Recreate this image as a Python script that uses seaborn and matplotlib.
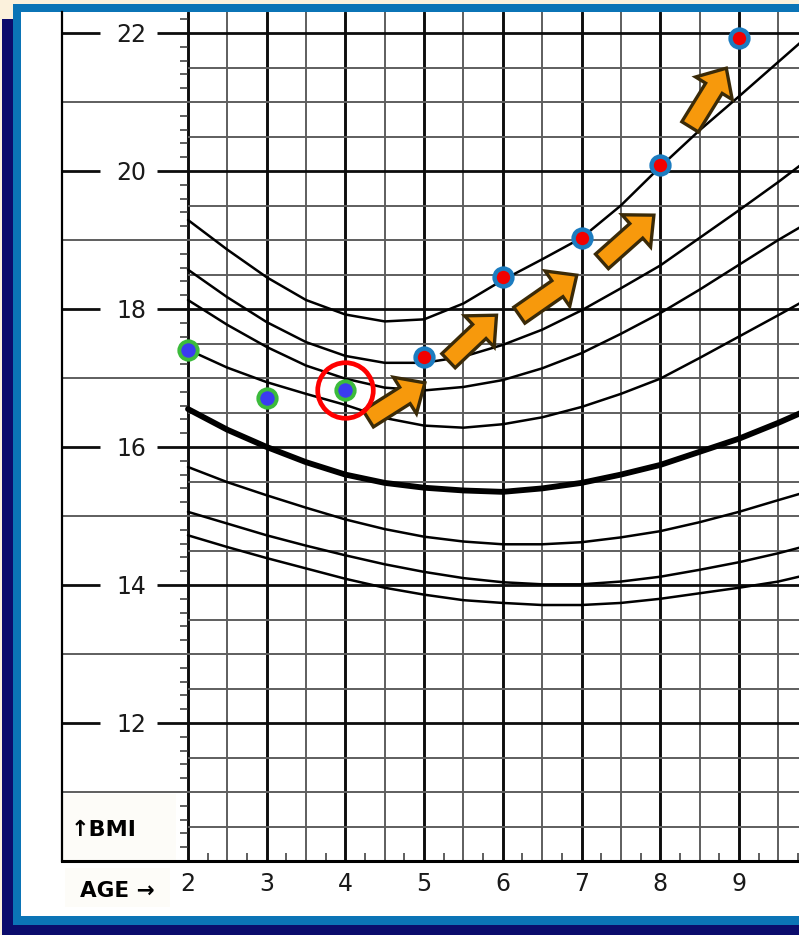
import numpy as np
import matplotlib
matplotlib.use("Agg")
import matplotlib.pyplot as plt
from matplotlib.patches import Rectangle, FancyArrowPatch
import seaborn as sns

# percentile curves (BMI for age, boys)
ages = [2, 2.5, 3, 3.5, 4, 4.5, 5, 5.5, 6, 6.5, 7, 7.5, 8, 8.5, 9, 9.5, 9.8]
p95 = [19.29, 18.86, 18.46, 18.13, 17.92, 17.82, 17.85, 18.08, 18.42, 18.72, 19.03, 19.50, 20.06, 20.59, 21.08, 21.58, 21.88]
p90 = [18.57, 18.17, 17.81, 17.52, 17.32, 17.22, 17.22, 17.31, 17.48, 17.70, 17.98, 18.30, 18.63, 19.03, 19.43, 19.84, 20.10]
p85 = [18.13, 17.77, 17.45, 17.18, 16.99, 16.86, 16.82, 16.87, 16.97, 17.14, 17.36, 17.64, 17.94, 18.28, 18.64, 19.00, 19.20]
p75 = [17.41, 17.15, 16.94, 16.77, 16.61, 16.42, 16.31, 16.28, 16.33, 16.43, 16.58, 16.77, 16.99, 17.29, 17.60, 17.91, 18.10]
p50 = [16.55, 16.25, 16.00, 15.78, 15.60, 15.48, 15.41, 15.37, 15.35, 15.40, 15.48, 15.60, 15.74, 15.93, 16.12, 16.35, 16.50]
p25 = [15.71, 15.49, 15.30, 15.12, 14.95, 14.81, 14.70, 14.63, 14.59, 14.59, 14.62, 14.69, 14.78, 14.91, 15.06, 15.23, 15.33]
p10 = [15.06, 14.89, 14.72, 14.57, 14.43, 14.30, 14.19, 14.10, 14.04, 14.01, 14.01, 14.05, 14.12, 14.22, 14.33, 14.46, 14.55]
p5 = [14.72, 14.55, 14.39, 14.24, 14.09, 13.96, 13.86, 13.78, 13.74, 13.71, 13.71, 13.74, 13.80, 13.88, 13.96, 14.05, 14.13]

# the child's measurements
child_age = [2, 3, 4, 5, 6, 7, 8, 9]
child_bmi = [17.41, 16.71, 16.82, 17.31, 18.47, 19.03, 20.09, 21.93]
circled_age = [4]
circled_bmi = [16.82]

# orange arrows (tail -> tip)
arrow_from_age = [4.29, 5.31, 6.21, 7.26, 8.38]
arrow_from_bmi = [16.41, 17.25, 17.91, 18.69, 20.64]
arrow_to_age = [5.01, 5.92, 6.94, 7.92, 8.84]
arrow_to_bmi = [16.93, 17.91, 18.49, 19.36, 21.49]

age_labels = [2, 3, 4, 5, 6, 7, 8, 9]
bmi_labels = [12, 14, 16, 18, 20, 22]

sns.set_style("white")
plt.rcParams['font.family'] = ['DejaVu Sans']

W, H = 799, 935
PX_YR, PX_BMI = 78.7, 69.0
fig = plt.figure(figsize=(W / 100, H / 100), dpi=100)
fig.patch.set_facecolor('#fbf1dc')

def frame_rect(x0, y0, x1, y1, color):
    r = Rectangle((x0 / W, 1 - y1 / H), (x1 - x0) / W, (y1 - y0) / H,
                  transform=fig.transFigure, facecolor=color, lw=0, zorder=-10)
    fig.add_artist(r)

frame_rect(2, 19, 810, 940, '#0b0c6c')
frame_rect(13, 4, 810, 925, '#0b74b6')
frame_rect(21, 12, 810, 916, 'white')
frame_rect(65, 868, 170, 907, '#fdfcf8')

ax = fig.add_axes([62 / W, 1 - 861 / H, (799 - 62) / W, (861 - 12) / H])
x_lo = 2 - (188 - 62) / PX_YR
x_hi = 2 + (799 - 188) / PX_YR
ax.set_xlim(x_lo, x_hi)
ax.set_ylim(10, 22 + 21 / PX_BMI)
ax.set_facecolor('none')
for s in ['top', 'right']:
    ax.spines[s].set_visible(False)
ax.spines['left'].set_linewidth(1.6)
ax.spines['bottom'].set_linewidth(2.2)
ax.spines['left'].set_color('black')
ax.spines['bottom'].set_color('black')

# faint box behind the BMI note
ax.add_patch(Rectangle((x_lo, 10.02), 1.85 - x_lo, 0.95, facecolor='#fdfcf8', lw=0, zorder=0.5))

# vertical grid
for a in np.arange(2, 9.6, 0.5):
    if a == int(a):
        ax.axvline(a, color='#0d0d0d', lw=2.1, zorder=1)
    else:
        ax.axvline(a, color='#5e5e5e', lw=1.4, zorder=1)

# horizontal grid
gap_lo = 2 + (100 - 188) / PX_YR
gap_hi = 2 + (157 - 188) / PX_YR
for b in np.arange(10.5, 22.1, 0.5):
    if b == int(b) and int(b) % 2 == 0:
        ax.hlines(b, x_lo, gap_lo, color='#0d0d0d', lw=2.0, zorder=1)
        ax.hlines(b, gap_hi, x_hi, color='#0d0d0d', lw=2.0, zorder=1)
    elif b == int(b):
        ax.hlines(b, x_lo, x_hi, color='#5e5e5e', lw=1.4, zorder=1)
    else:
        ax.hlines(b, 2, x_hi, color='#5e5e5e', lw=1.4, zorder=1)

# small ticks: left every 0.2, bottom every quarter year
for b in np.arange(10.2, 22.3, 0.2):
    if abs(b - round(b)) > 0.05:
        ax.hlines(b, 2 - 8 / PX_YR, 2, color='#333333', lw=1.1, zorder=1)
for a in np.arange(2.25, 9.8, 0.5):
    ax.vlines(a, 10, 10 + 8 / PX_BMI, color='#333333', lw=1.1, zorder=1)

# y labels inside the left margin
for v in bmi_labels:
    ax.text(2 + (131 - 188) / PX_YR, v - 8.5 / PX_BMI, str(v), ha='center', va='baseline',
            fontsize=17, color='#1a1a1a', zorder=2)

# percentile curves
for vals in [p95, p90, p85, p75, p25, p10, p5]:
    sns.lineplot(x=ages, y=vals, color='black', lw=1.8, ax=ax, zorder=3)
sns.lineplot(x=ages, y=p50, color='black', lw=4.2, ax=ax, zorder=3)

# arrows
for ta, tb, ha_, hb in zip(arrow_from_age, arrow_from_bmi, arrow_to_age, arrow_to_bmi):
    arr = FancyArrowPatch((ta, tb), (ha_, hb),
                          arrowstyle='simple,head_length=17,head_width=31,tail_width=14',
                          mutation_scale=1, shrinkA=0, shrinkB=0,
                          facecolor='#f7990c', edgecolor='#3a2a08', lw=2.4,
                          joinstyle='miter', zorder=5)
    ax.add_patch(arr)

# points
sns.scatterplot(x=child_age[:3], y=child_bmi[:3], color='#3b3bf0', edgecolor='#3cbb3c',
                linewidth=2.8, s=175, ax=ax, zorder=6, legend=False)
sns.scatterplot(x=child_age[3:], y=child_bmi[3:], color='#f20000', edgecolor='#1c7cc0',
                linewidth=3.2, s=165, ax=ax, zorder=6, legend=False)
ax.plot(circled_age, circled_bmi, marker='o', ms=40, mfc='none', mec='#ff0000', mew=3.4,
        ls='none', zorder=7)

ax.set_yticks([])
ax.set_xticks(age_labels)
ax.set_xticklabels([str(a) for a in age_labels])
ax.tick_params(axis='x', length=0, pad=8, labelsize=17, labelcolor='#1a1a1a')
ax.set_xlabel('')
ax.set_ylabel('')

fig.text(71 / W, 1 - 836 / H, '\u2191BMI', fontsize=16, weight='bold', color='black',
         ha='left', va='baseline')
fig.text(80 / W, 1 - 897 / H, 'AGE \u2192', fontsize=15.5, weight='bold', color='black',
         ha='left', va='baseline')

fig.savefig('out.png', dpi=100, facecolor=fig.get_facecolor())
